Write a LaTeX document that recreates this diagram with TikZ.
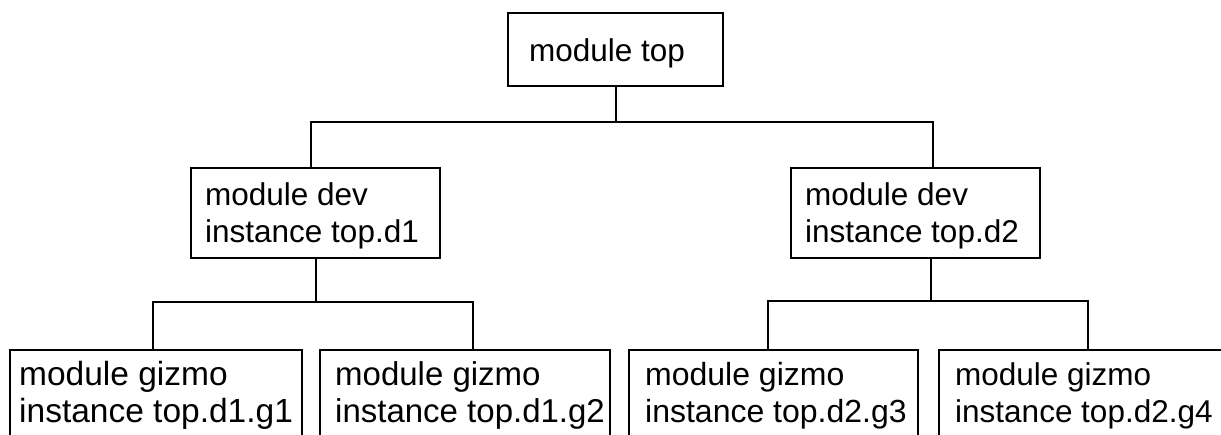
\documentclass[tikz,border=0pt]{standalone}
\usepackage{fontspec}
\setmainfont{Liberation Sans}
\begin{document}
\begin{tikzpicture}[x=1pt,y=-1pt,
  box/.style={draw,line width=2pt,rectangle,inner sep=0pt,anchor=north west},
  lbl/.style={anchor=base west,inner sep=0pt,font=\fontsize{31.5}{38}\selectfont},
  lblsz/.style={anchor=base west,inner sep=0pt,font=\fontsize{#1}{38}\selectfont},
  wire/.style={line width=2pt}]
\useasboundingbox (0,0) rectangle (1221,434);
\clip (0,0) rectangle (1221,434);

% module boxes
\node[box,minimum width=215pt,minimum height=73pt] (top) at (507,12) {};
\node[box,minimum width=249pt,minimum height=90pt] (dev1) at (190,167) {};
\node[box,minimum width=249pt,minimum height=90pt] (dev2) at (790,167) {};
\node[box,minimum width=292pt,minimum height=120pt] (g1) at (9,349) {};
\node[box,minimum width=290pt,minimum height=120pt] (g2) at (319,349) {};
\node[box,minimum width=289pt,minimum height=120pt] (g3) at (628,349) {};
\node[box,minimum width=290pt,minimum height=120pt] (g4) at (938,349) {};

% labels
\node[lbl] (topa) at (529,61) {module top};
\node[lbl] (dev1a) at (205,205) {module dev};
\node[lbl] (dev1b) at (205,242) {instance top.d1};
\node[lbl] (dev2a) at (805,205) {module dev};
\node[lbl] (dev2b) at (805,242) {instance top.d2};
\node[lblsz=33.5] (g1a) at (19,385) {module gizmo};
\node[lblsz=33.5] (g1b) at (19,422) {instance top.d1.g1};
\node[lblsz=33] (g2a) at (335,385) {module gizmo};
\node[lblsz=33] (g2b) at (335,422) {instance top.d1.g2};
\node[lblsz=32] (g3a) at (645,385) {module gizmo};
\node[lblsz=32] (g3b) at (645,422) {instance top.d2.g3};
\node[lblsz=31.5] (g4a) at (955,385) {module gizmo};
\node[lblsz=31.5] (g4b) at (955,422) {instance top.d2.g4};

% bus ends
\coordinate (bus0L) at (311,122);
\coordinate (bus0R) at (933,122);
\coordinate (bus1L) at (153,302);
\coordinate (bus1R) at (473,302);
\coordinate (bus2L) at (768,301);
\coordinate (bus2R) at (1088,301);
\coordinate (drop2) at (931,301);

% connectors
\draw[wire] (top.south) -- (top.south |- bus0L);
\draw[wire] (dev1.north -| bus0L) |- (bus0R) -- (dev2.north -| bus0R);
\draw[wire] (dev1.south) -- (dev1.south |- bus1L);
\draw[wire] (g1.north -| bus1L) |- (bus1R) -- (g2.north -| bus1R);
\draw[wire] (dev2.south -| drop2) -- (drop2);
\draw[wire] (g3.north -| bus2L) |- (bus2R) -- (g4.north -| bus2R);
\end{tikzpicture}
\end{document}
